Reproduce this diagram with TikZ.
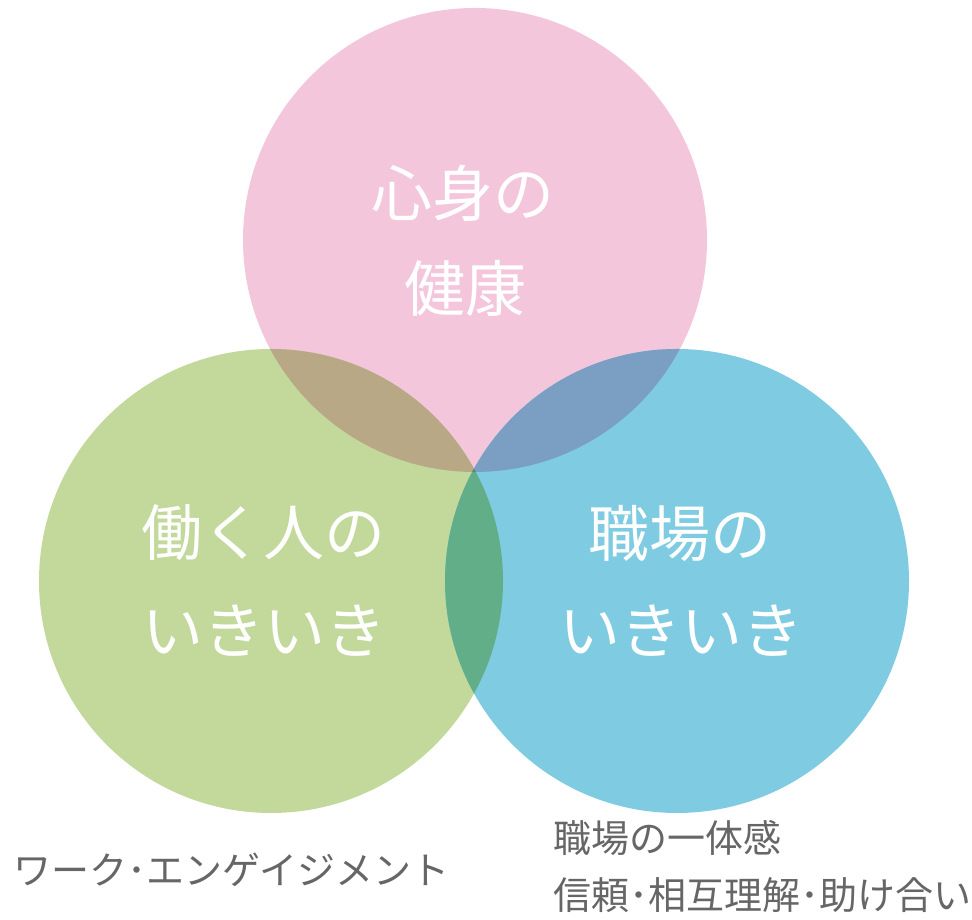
\documentclass[tikz,border=0pt]{standalone}
\usepackage{fontspec}
\newfontfamily\jp{Noto Sans CJK JP}
\definecolor{cpink}{RGB}{244,198,220}
\definecolor{cgreen}{RGB}{194,217,155}
\definecolor{cblue}{RGB}{127,204,226}
\definecolor{cpg}{RGB}{185,168,134}
\definecolor{cpb}{RGB}{122,159,195}
\definecolor{cgb}{RGB}{97,174,137}
\definecolor{cpgb}{RGB}{93,134,118}
\definecolor{cgray}{RGB}{102,102,102}
\tikzset{
  bigtxt/.style={text=white,font=\jp\fontsize{61}{72}\selectfont,inner sep=0pt},
  smalltxt/.style={text=cgray,font=\jp\fontsize{38}{45}\selectfont,inner sep=0pt,anchor=west}
}
\begin{document}
\begin{tikzpicture}[x=1pt,y=1pt]
\useasboundingbox (0,0) rectangle (972,920);
\fill[white] (0,0) rectangle (972,920);
\coordinate (P) at (475,680);
\coordinate (G) at (271,339);
\coordinate (B) at (677,339);
\def\R{232}
\fill[cpink] (P) circle (\R);
\fill[cgreen] (G) circle (\R);
\fill[cblue] (B) circle (\R);
\begin{scope}\clip (P) circle (\R); \fill[cpg] (G) circle (\R); \end{scope}
\begin{scope}\clip (P) circle (\R); \fill[cpb] (B) circle (\R); \end{scope}
\begin{scope}\clip (G) circle (\R); \fill[cgb] (B) circle (\R); \end{scope}
\begin{scope}\clip (P) circle (\R); \clip (G) circle (\R); \fill[cpgb] (B) circle (\R); \end{scope}
\node[bigtxt] (p1) at (463,727) {心身の};
\node[bigtxt] (p2) at (465,632) {健康};
\node[bigtxt] (g1) at (263,387) {働く人の};
\node[bigtxt] (g2) at (264,289) {いきいき};
\node[bigtxt] (b1) at (680,387) {職場の};
\node[bigtxt] (b2) at (681,289) {いきいき};
\node[smalltxt] (s1) at (13,50) {ワーク･エンゲイジメント};
\node[smalltxt] (s2) at (553,82) {職場の一体感};
\node[smalltxt] (s3) at (553,25) {信頼･相互理解･助け合い};
\end{tikzpicture}
\end{document}
